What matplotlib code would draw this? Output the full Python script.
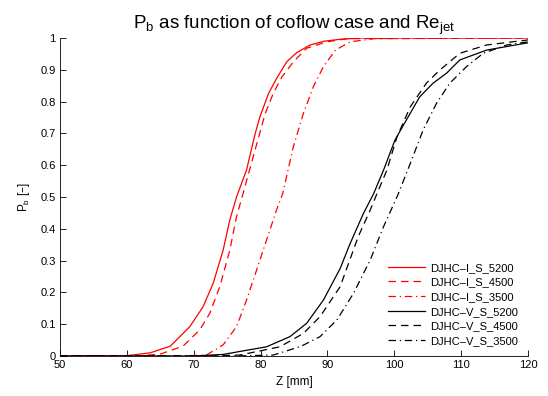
import matplotlib
matplotlib.use("Agg")
import matplotlib.pyplot as plt

plt.rcParams['font.family'] = ['Liberation Sans', 'DejaVu Sans']

# Z [mm] and Pb [-]
z_I5200 = [50, 60, 63.5, 66.5, 69.4, 71.4, 72.9, 74.4, 75.4, 76.4, 77.9, 79.2, 79.9, 81.2, 82.4, 83.9, 85.4, 87.4, 89.5, 91.9, 95, 100, 120]
pb_I5200 = [0, 0.001, 0.010, 0.031, 0.092, 0.155, 0.228, 0.333, 0.428, 0.50, 0.585, 0.70, 0.752, 0.826, 0.873, 0.925, 0.954, 0.978, 0.99, 0.996, 1.0, 1.0, 1.0]

z_I4500 = [50, 62, 65, 68.4, 70.9, 72.4, 73.9, 75.4, 76.4, 77.3, 78.9, 80.7, 81.9, 83.2, 84.9, 86.9, 89.9, 93, 120]
pb_I4500 = [0, 0.001, 0.006, 0.031, 0.082, 0.134, 0.218, 0.333, 0.438, 0.505, 0.627, 0.763, 0.826, 0.878, 0.925, 0.968, 0.988, 0.998, 1.0]

z_I3500 = [50, 68, 71.9, 74.4, 76.4, 77.9, 79.4, 80.9, 82.4, 83.3, 84.9, 86.4, 87.9, 89.4, 91.2, 93.4, 97, 120]
pb_I3500 = [0, 0.0, 0.003, 0.035, 0.092, 0.176, 0.27, 0.365, 0.46, 0.51, 0.658, 0.763, 0.847, 0.91, 0.962, 0.988, 0.998, 1.0]

z_V5200 = [50, 70, 74.4, 80.9, 84.4, 86.9, 89.4, 91.9, 93.4, 95.4, 96.9, 98.4, 100.1, 101.8, 103.8, 105.8, 107.8, 109.8, 113.8, 120]
pb_V5200 = [0, 0.0, 0.005, 0.029, 0.061, 0.103, 0.176, 0.275, 0.354, 0.449, 0.51, 0.585, 0.679, 0.742, 0.815, 0.858, 0.889, 0.931, 0.962, 0.985]

z_V4500 = [50, 72, 76.9, 82.9, 86.4, 88.9, 91.9, 94.6, 96.4, 97.3, 98.9, 100.4, 102.4, 104.8, 106.8, 109.8, 113.8, 120]
pb_V4500 = [0, 0, 0.003, 0.029, 0.071, 0.124, 0.218, 0.375, 0.459, 0.505, 0.585, 0.689, 0.784, 0.858, 0.899, 0.952, 0.978, 0.994]

z_V3500 = [50, 76, 81.9, 86, 88.9, 91.4, 93.9, 96.4, 98.4, 100.5, 102.4, 104.3, 106.3, 108.3, 110.8, 113.3, 116.8, 120]
pb_V3500 = [0, 0, 0.003, 0.03, 0.061, 0.113, 0.197, 0.302, 0.407, 0.505, 0.606, 0.71, 0.794, 0.858, 0.91, 0.952, 0.978, 0.988]

fig = plt.figure(figsize=(5.48, 3.96), dpi=100)
ax = fig.add_axes([0.1095, 0.101, 0.854, 0.803])

lw = 0.9
dash = (0, (6, 4))
dashdot = (0, (6, 3, 1, 3))
ax.plot(z_I5200, pb_I5200, color='red', lw=lw, ls='-', label='DJHC–I_S_5200')
ax.plot(z_I4500, pb_I4500, color='red', lw=lw, ls=dash, label='DJHC–I_S_4500')
ax.plot(z_I3500, pb_I3500, color='red', lw=lw, ls=dashdot, label='DJHC–I_S_3500')
ax.plot(z_V5200, pb_V5200, color='black', lw=lw, ls='-', label='DJHC–V_S_5200')
ax.plot(z_V4500, pb_V4500, color='black', lw=lw, ls=dash, label='DJHC–V_S_4500')
ax.plot(z_V3500, pb_V3500, color='black', lw=lw, ls=dashdot, label='DJHC–V_S_3500')

ax.set_xlim(50, 120)
ax.set_ylim(0, 1)
ax.set_xticks(range(50, 121, 10))
ax.set_yticks([i / 10 for i in range(11)])
ax.set_yticklabels(['0', '0.1', '0.2', '0.3', '0.4', '0.5', '0.6', '0.7', '0.8', '0.9', '1'])
ax.tick_params(direction='in', length=4, width=0.6, labelsize=8, pad=3)
ax.spines['top'].set_visible(False)
ax.spines['right'].set_visible(False)
for s in ['left', 'bottom']:
    ax.spines[s].set_linewidth(0.6)

ax.set_xlabel('Z [mm]', fontsize=8.5, labelpad=4)
ax.set_ylabel(r'P$_\mathregular{b}$ [–]', fontsize=8.5, labelpad=6)
ax.set_title(r'P$_\mathregular{b}$ as function of coflow case and Re$_\mathregular{jet}$', fontsize=13.5, pad=7)

ax.legend(loc='lower right', frameon=False, fontsize=8, handlelength=3.3,
          labelspacing=0.42, borderaxespad=0.5, handletextpad=0.5)

fig.savefig('out.png', dpi=100)
